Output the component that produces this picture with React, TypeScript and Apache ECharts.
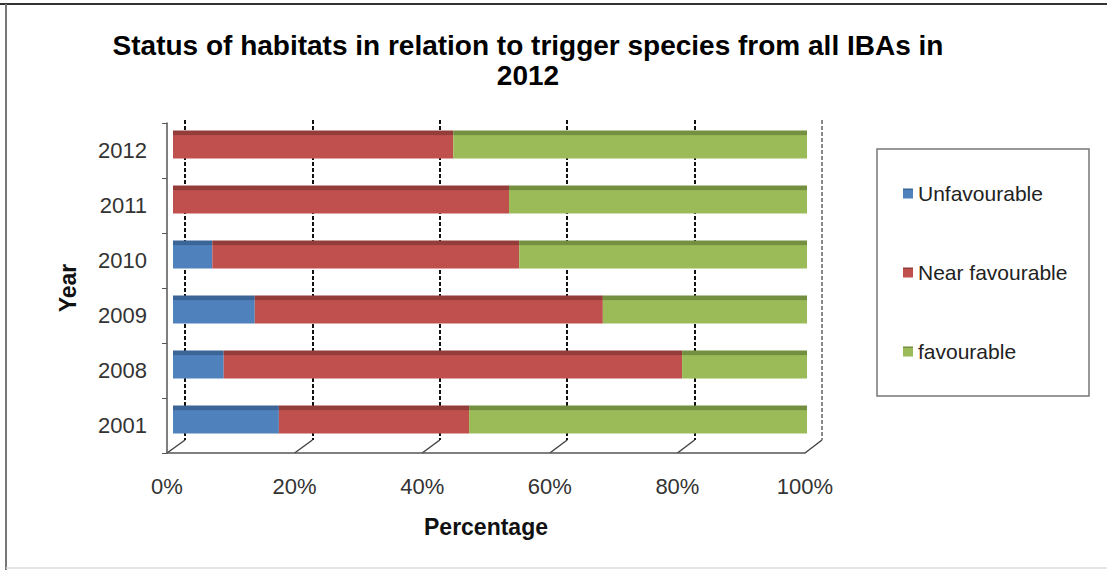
import React, { useEffect, useRef } from "react";
import * as echarts from "echarts";

const years = ["2001", "2008", "2009", "2010", "2011", "2012"];
const unfavourable = [16.7, 8.0, 12.9, 6.2, 0, 0];
const nearFavourable = [30.0, 72.3, 54.9, 48.4, 53.0, 44.2];
const favourable = [53.3, 19.7, 32.2, 45.4, 47.0, 55.8];
const seriesNames = ["Unfavourable", "Near favourable", "favourable"];
const percentTicks = [0, 20, 40, 60, 80, 100];

const FONT = "'Liberation Sans', Arial, sans-serif";

function shaded(main: string, dark: string) {
  return new echarts.graphic.LinearGradient(0, 0, 0, 1, [
    { offset: 0, color: dark },
    { offset: 0.17, color: dark },
    { offset: 0.18, color: main },
    { offset: 1, color: main },
  ]);
}

export default function App() {
  const ref = useRef<HTMLDivElement>(null);
  useEffect(() => {
    if (!ref.current) return;
    const chart = echarts.init(ref.current, undefined, { renderer: "svg" });
    const values = [unfavourable, nearFavourable, favourable];
    const colors = [
      ["#4F81BD", "#3B6497"],
      ["#C0504D", "#933C3A"],
      ["#9BBB59", "#748F3F"],
    ];
    const option: any = {
      animation: false,
      backgroundColor: "#ffffff",
      title: {
        text: "Status of habitats in relation to trigger species from all IBAs in\n2012",
        left: 523,
        top: 25,
        textAlign: "center",
        textStyle: {
          fontFamily: FONT,
          fontWeight: "bold",
          fontSize: 28,
          lineHeight: 30,
          color: "#000",
        },
      },
      legend: {
        data: seriesNames,
        orient: "vertical",
        left: 898,
        top: 178,
        itemWidth: 10,
        itemHeight: 10,
        itemGap: 58,
        icon: "rect",
        textStyle: { fontFamily: FONT, fontSize: 21, color: "#222" },
      },
      grid: [
        { left: 167, top: 123, width: 638, height: 330 },
        { left: 173, top: 117, width: 634, height: 330 },
        { left: 185, top: 120, width: 637, height: 320 },
      ],
      xAxis: [
        {
          gridIndex: 0,
          type: "value",
          min: 0,
          max: 100,
          interval: 20,
          name: "Percentage",
          nameLocation: "middle",
          nameGap: 62,
          nameTextStyle: { fontFamily: FONT, fontWeight: "bold", fontSize: 23, color: "#111" },
          axisLine: { show: true, lineStyle: { color: "#555", width: 1.5 } },
          axisTick: { show: false },
          splitLine: { show: false },
          axisLabel: {
            formatter: "{value}%",
            margin: 22,
            fontFamily: FONT,
            fontSize: 22,
            color: "#333",
          },
        },
        {
          gridIndex: 1,
          type: "value",
          min: 0,
          max: 100,
          show: false,
        },
        {
          gridIndex: 2,
          type: "value",
          min: 0,
          max: 100,
          interval: 20,
          axisLine: { show: false },
          axisTick: { show: false },
          axisLabel: { show: false },
          splitLine: {
            show: true,
            lineStyle: {
              color: ["#111", "#111", "#111", "#111", "#111", "#888"],
              type: [4, 2],
              width: 2,
            },
          },
        },
      ],
      yAxis: [
        {
          gridIndex: 0,
          type: "category",
          data: years,
          name: "Year",
          nameLocation: "middle",
          nameGap: 88,
          nameRotate: 90,
          nameTextStyle: { fontFamily: FONT, fontWeight: "bold", fontSize: 23, color: "#111" },
          axisLine: { show: true, lineStyle: { color: "#555", width: 1.5 } },
          axisTick: { show: true, length: 5, inside: false, lineStyle: { color: "#555" } },
          axisLabel: { margin: 20, fontFamily: FONT, fontSize: 22, color: "#333" },
        },
        {
          gridIndex: 1,
          type: "category",
          data: years,
          show: false,
        },
        {
          gridIndex: 2,
          type: "category",
          data: years,
          show: false,
        },
      ],
      series: seriesNames.map((name, i) => ({
        name,
        type: "bar",
        xAxisIndex: 1,
        yAxisIndex: 1,
        stack: "total",
        barWidth: 28,
        data: values[i],
        itemStyle: { color: shaded(colors[i][0], colors[i][1]) },
        emphasis: { disabled: true },
      })),
      graphic: [],
    };
    chart.setOption(option);

    // perspective floor ticks and frame
    const g: any[] = [];
    percentTicks.forEach((v) => {
      const back = chart.convertToPixel({ xAxisIndex: 2 } as any, v) as number;
      const front = chart.convertToPixel({ xAxisIndex: 0 } as any, v) as number;
      g.push({
        type: "line",
        shape: { x1: back, y1: 440, x2: front, y2: 453 },
        style: { stroke: "#444", lineWidth: 1.5 },
        silent: true,
      });
    });
    g.push({
      type: "rect",
      shape: { x: 877, y: 149, width: 212, height: 247 },
      style: { fill: "none", stroke: "#777", lineWidth: 1.5 },
      silent: true,
    });
    g.push({
      type: "line",
      shape: { x1: 0, y1: 4, x2: 1107, y2: 4 },
      style: { stroke: "#333", lineWidth: 2 },
      silent: true,
    });
    g.push({
      type: "line",
      shape: { x1: 6, y1: 4, x2: 6, y2: 570 },
      style: { stroke: "#777", lineWidth: 2 },
      silent: true,
    });
    g.push({
      type: "line",
      shape: { x1: 6, y1: 568, x2: 1107, y2: 568 },
      style: { stroke: "#ddd", lineWidth: 1.5 },
      silent: true,
    });
    chart.setOption({ graphic: g });

    return () => chart.dispose();
  }, []);
  return (
    <div
      ref={ref}
      style={{ position: "fixed", left: 0, top: 0, width: 1107, height: 570, background: "#fff" }}
    />
  );
}
